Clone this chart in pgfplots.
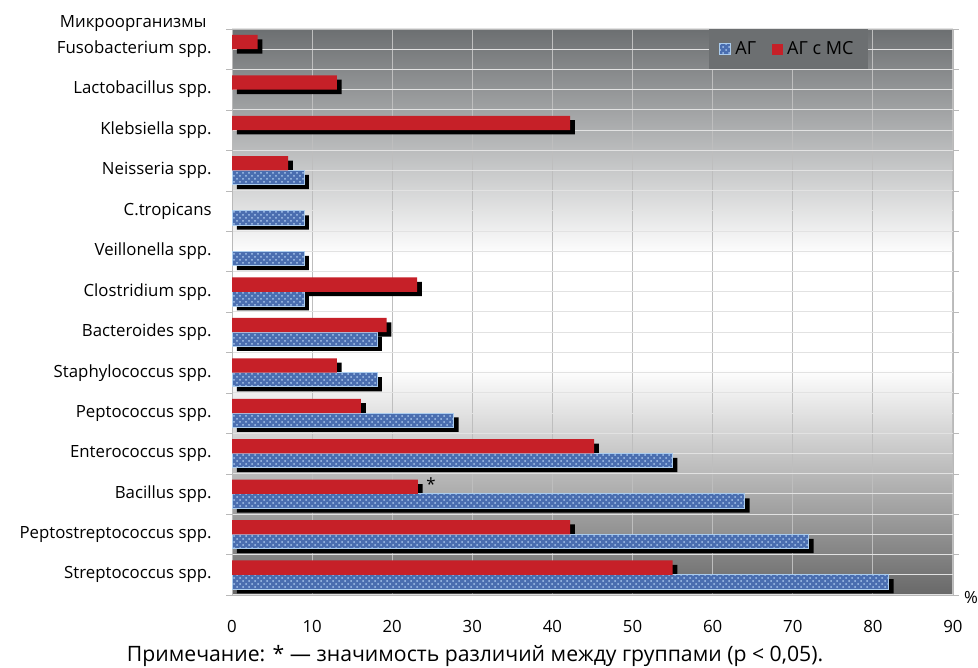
\documentclass[border=0pt]{standalone}
\usepackage{pgfplots}
\pgfplotsset{compat=1.18}
\usepackage{pgfplotstable}
\usepackage{fontspec}
\setmainfont{Open Sans}
\usetikzlibrary{patterns}

\definecolor{agred}{RGB}{198,32,40}
\definecolor{agblue}{RGB}{74,110,176}
\definecolor{agdots}{RGB}{168,198,236}
\definecolor{agedge}{RGB}{170,204,238}
\definecolor{bgtop}{RGB}{108,111,113}
\definecolor{bgbot}{RGB}{104,104,104}
\definecolor{gridv}{RGB}{190,190,190}
\definecolor{gridh}{RGB}{226,226,226}

% dark at the edges, a white band across the middle of the plot area
\pgfdeclareverticalshading{plotbg}{100bp}{%
  color(0bp)=(bgbot); color(25bp)=(bgbot); color(45bp)=(white);
  color(55bp)=(white); color(75bp)=(bgtop); color(100bp)=(bgtop)}

% АГ
\pgfplotstableread{
y val
0 82
1 72
2 64
3 55
4 27.7
5 18.1
6 18.1
7 9
8 9
9 9
10 9
}\dataAG
% АГ с МС
\pgfplotstableread{
y val
0 55
1 42.2
2 23.2
3 45.2
4 16.1
5 13.1
6 19.3
7 23.1
10 7
11 42.2
12 13.1
13 3.2
}\dataAGMS

\newcommand{\lblfont}{\fontsize{8.4}{10}\selectfont}

\begin{document}
\begin{tikzpicture}
\useasboundingbox (0,0) rectangle (489pt,334pt);
\begin{axis}[
  at={(116pt,36.5pt)}, anchor=south west,
  scale only axis, width=360.5pt, height=283pt,
  xmin=0, xmax=90, ymin=-0.5, ymax=13.5,
  axis background/.style={shade, shading=plotbg},
  axis line style={draw=gray!55},
  xtick={0,10,...,90},
  ytick={0,...,13},
  yticklabels={Streptococcus spp., Peptostreptococcus spp., Bacillus spp., Enterococcus spp., Peptococcus spp., Staphylococcus spp., Bacteroides spp., Clostridium spp., Veillonella spp., C.tropicans, Neisseria spp., Klebsiella spp., Lactobacillus spp., Fusobacterium spp.},
  minor ytick={-0.5,0.5,...,13.5},
  xmajorgrids, ymajorgrids, yminorgrids,
  major x grid style={draw=gridv, line width=0.5pt},
  major y grid style={draw=gridh, line width=0.5pt},
  minor y grid style={draw=gridh, line width=0.5pt},
  major tick length=0pt, minor tick length=3pt,
  tick align=outside,
  minor tick style={draw=gray!55},
  major tick style={draw=none},
  /pgf/number format/assume math mode=true,
  tick label style={font=\lblfont, inner sep=0pt},
  yticklabel style={anchor=east, xshift=-10pt},
  xticklabel style={anchor=north, yshift=-12.5pt},
  legend style={at={(0.882,1)}, anchor=north east, fill=bgtop, draw=none,
    font=\fontsize{9}{11}\selectfont, inner xsep=5pt, inner ysep=4pt,
    /tikz/every even column/.append style={column sep=6pt}},
  legend columns=2,
  legend image code/.code={\path[#1] (0pt,-2.75pt) rectangle (5.5pt,2.75pt);},
  clip=false,
]
% drop shadows
\addplot[xbar, bar width=0.354, bar shift=-0.177, fill=black, draw=none, forget plot,
  xshift=2.4pt, yshift=-2.2pt] table[x=val,y=y]{\dataAG};
\addplot[xbar, bar width=0.354, bar shift=0.177, fill=black, draw=none, forget plot,
  xshift=2.4pt, yshift=-2.2pt] table[x=val,y=y]{\dataAGMS};
% bars
\addplot[xbar, bar width=0.354, bar shift=-0.177, fill=agblue, draw=agedge, line width=0.5pt,
  postaction={pattern=crosshatch dots, pattern color=agdots}] table[x=val,y=y]{\dataAG};
\addlegendentry{АГ}
\addplot[xbar, bar width=0.354, bar shift=0.177, fill=agred, draw=none] table[x=val,y=y]{\dataAGMS};
\addlegendentry{АГ с МС}
% significance mark
\node[font=\lblfont, anchor=west, inner sep=0pt] at (axis cs:23.2,2.177) [xshift=4pt, yshift=1.5pt] {*};
% axis captions
\node[font=\lblfont, anchor=east, inner sep=0pt] at (rel axis cs:0,1) [xshift=-12.5pt, yshift=2.75pt] {Микроорганизмы};
\node[font=\lblfont, anchor=center, inner sep=0pt] at (rel axis cs:1,0) [xshift=9pt, yshift=-1.25pt] {\%};
\end{axis}
\node[font=\fontsize{10.6}{12}\selectfont, anchor=base, inner sep=0pt] at (237.5pt,3.15pt)
  {Примечание: * — значимость различий между группами (р < 0,05).};
\end{tikzpicture}
\end{document}
